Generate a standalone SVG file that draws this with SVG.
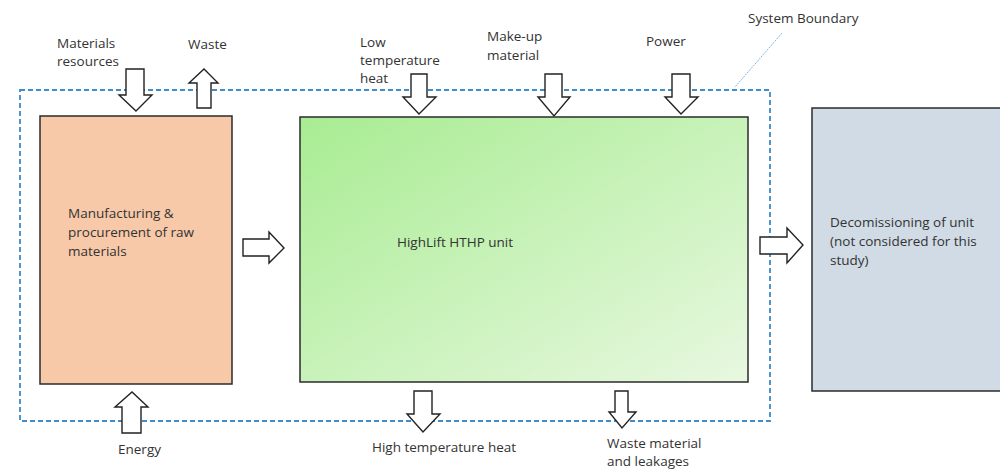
<svg xmlns="http://www.w3.org/2000/svg" width="1000" height="471" viewBox="0 0 1000 471">
<style>
text{font-family:"Open Sans","Liberation Sans",sans-serif;font-size:13.5px;fill:#333}
.box{stroke:#2b2b2b;stroke-width:1.5}
.arr{fill:#fff;stroke:#222;stroke-width:1.4;stroke-linejoin:miter}
.bnd{fill:none;stroke:#3f8cc8;stroke-width:1.8;stroke-dasharray:5 3}
</style>
<defs>
<linearGradient id="g" x1="0" y1="0" x2="1" y2="1">
<stop offset="0" stop-color="#a8ec92"/>
<stop offset="1" stop-color="#e8f8e0"/>
</linearGradient>
</defs>
<rect width="1000" height="471" fill="#fff"/>
<g id="boundary">
<rect class="bnd" x="20" y="90" width="750" height="331"/>
<line x1="782" y1="33" x2="735" y2="87" stroke="#7fb3e0" stroke-width="1" stroke-dasharray="2 1"/>
<text x="748" y="23">System Boundary</text>
</g>
<g id="manufacturing">
<rect class="box" x="40" y="116" width="192" height="268" fill="#f8c9a9"/>
<text x="68" y="218">Manufacturing &amp;</text>
<text x="68" y="237">procurement of raw</text>
<text x="68" y="256">materials</text>
</g>
<g id="hthp">
<rect class="box" x="300" y="117" width="448" height="265" fill="url(#g)"/>
<text x="397" y="247">HighLift HTHP unit</text>
</g>
<g id="decommissioning">
<rect class="box" x="812" y="108" width="192" height="283" fill="#d0dbe5"/>
<text x="830" y="227">Decomissioning of unit</text>
<text x="830" y="246">(not considered for this</text>
<text x="830" y="265">study)</text>
</g>
<g id="labels">
<text x="57" y="48">Materials</text>
<text x="57" y="66">resources</text>
<text x="188" y="49">Waste</text>
<text x="360" y="47">Low</text>
<text x="360" y="65">temperature</text>
<text x="360" y="83">heat</text>
<text x="487" y="41">Make-up</text>
<text x="487" y="60">material</text>
<text x="646" y="46">Power</text>
<text x="118" y="454">Energy</text>
<text x="372" y="452">High temperature heat</text>
<text x="607" y="448">Waste material</text>
<text x="607" y="466">and leakages</text>
</g>
<g id="connectors">
<polygon class="arr" points="126,69 144,69 144,95 152,95 136,111 119,95 126,95"/>
<polygon class="arr" points="197,108 211,108 211,83 218,83 204,69 189,83 197,83"/>
<polygon class="arr" points="411,74 427,74 427,97 436,97 419,114 403,97 411,97"/>
<polygon class="arr" points="545,74 562,74 562,97 570,97 554,116 538,97 545,97"/>
<polygon class="arr" points="672,74 690,74 690,97 698,97 681,114 665,97 672,97"/>
<polygon class="arr" points="122,433 141,433 141,407 148,407 132,392 115,407 122,407"/>
<polygon class="arr" points="414,391 432,391 432,414 440,414 423,432 407,414 414,414"/>
<polygon class="arr" points="615,391 628,391 628,412 636,412 622,428 609,412 615,412"/>
<polygon class="arr" points="243,239 269,239 269,232 284,248 269,263 269,256 243,256"/>
<polygon class="arr" points="760,237 787,237 787,228 803,245 787,263 787,254 760,254"/>
</g>
</svg>
